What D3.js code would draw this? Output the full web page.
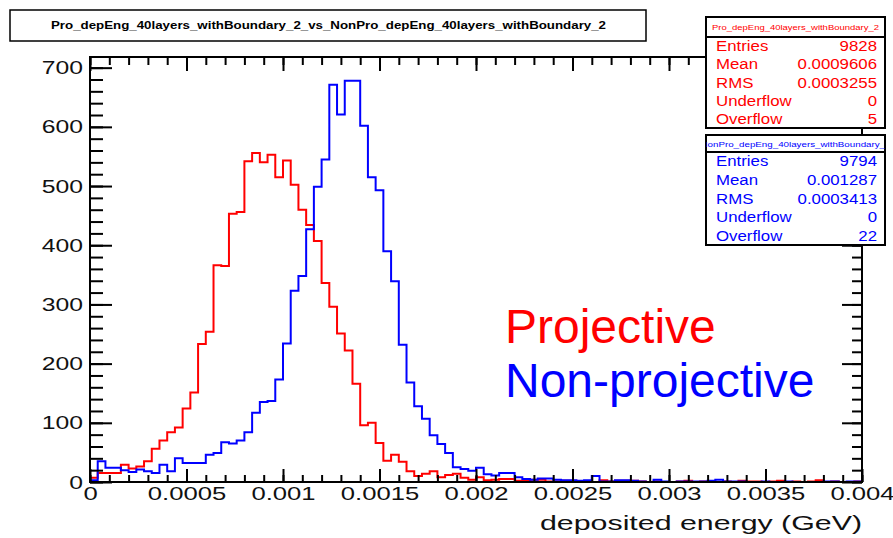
<!DOCTYPE html>
<html>
<head>
<meta charset="utf-8">
<script src="https://cdn.jsdelivr.net/npm/d3@7"></script>
<style>
  body { margin: 0; background: #fff; }
  text { font-family: "Liberation Sans", Arial, sans-serif; }
</style>
</head>
<body>
<script>
// 100 bins from 0 to 0.004 GeV
var binLow = 0, binHigh = 0.004, nBins = 100;

var projCounts = [
  7, 15, 15, 15, 29, 23, 26, 35, 56, 70,
  84, 92, 124, 151, 233, 254, 366, 365, 453, 456,
  542, 556, 540, 553, 515, 543, 502, 460, 434, 407,
  336, 296, 251, 222, 166, 96, 100, 66, 36, 46,
  34, 18, 10, 14, 18, 8, 12, 14, 7, 4,
  8, 3, 4, 5, 5, 2, 2, 4, 4, 1,
  1, 2, 2, 1, 1, 0, 3, 1, 2, 2,
  2, 1, 0, 1, 0, 0, 1, 2, 0, 1,
  1, 0, 1, 0, 2, 1, 1, 0, 1, 2,
  0, 1, 0, 1, 3, 0, 1, 0, 0, 1
];

var nonProjCounts = [
  3, 35, 24, 24, 20, 17, 21, 18, 15, 29,
  18, 40, 32, 32, 32, 46, 49, 67, 65, 70,
  84, 117, 135, 137, 173, 234, 323, 348, 427, 499,
  545, 671, 621, 678, 678, 602, 515, 493, 390, 339,
  232, 168, 128, 107, 79, 64, 49, 25, 22, 19,
  24, 13, 11, 15, 15, 8, 5, 4, 6, 6,
  4, 3, 3, 2, 3, 10, 1, 1, 3, 3,
  2, 1, 0, 4, 1, 0, 1, 1, 1, 1,
  2, 4, 1, 1, 1, 0, 0, 1, 0, 0,
  1, 0, 0, 0, 0, 1, 1, 0, 1, 1
];

var yMajorTicks = [0, 100, 200, 300, 400, 500, 600, 700];
var xMajorTicks = [0, 0.0005, 0.001, 0.0015, 0.002, 0.0025, 0.003, 0.0035, 0.004];
var xTickLabels = ['0', '0.0005', '0.001', '0.0015', '0.002', '0.0025', '0.003', '0.0035', '0.004'];

var titleText = 'Pro_depEng_40layers_withBoundary_2_vs_NonPro_depEng_40layers_withBoundary_2';
var statNames = ['Entries', 'Mean', 'RMS', 'Underflow', 'Overflow'];
var projStats = ['9828', '0.0009606', '0.0003255', '0', '5'];
var nonProjStats = ['9794', '0.001287', '0.0003413', '0', '22'];

var W = 893, H = 538;
var frameL = 90, frameR = 862, frameT = 57, frameB = 482;

var svg = d3.select('body').append('svg')
                .attr('width', W)
                .attr('height', H);

var x = d3.scaleLinear().domain([binLow, binHigh]).range([frameL, frameR]);
var y = d3.scaleLinear().domain([0, 718]).range([frameB, frameT]);

// stretch ROOT text horizontally, the original canvas was widened
function stretch(sel, k) {
  sel.each(function() {
    var w = this.getComputedTextLength();
    d3.select(this).attr('textLength', w * k).attr('lengthAdjust', 'spacingAndGlyphs');
  });
}

var binW = (binHigh - binLow) / nBins;
function histPath(counts) {
  var p = d3.path();
  p.moveTo(x(binLow), y(0));
  counts.forEach(function(c, i) {
    p.lineTo(x(binLow + i * binW), y(c));
    p.lineTo(x(binLow + (i + 1) * binW), y(c));
  });
  p.lineTo(x(binHigh), y(0));
  return p.toString();
}

svg.append('path')
    .attr('d', histPath(projCounts))
    .attr('fill', 'none')
    .attr('stroke', '#ff0000')
    .attr('stroke-width', 2);

svg.append('path')
    .attr('d', histPath(nonProjCounts))
    .attr('fill', 'none')
    .attr('stroke', '#0000ff')
    .attr('stroke-width', 2);

// axes: ticks on all four sides, pointing inwards
var yMinor = d3.range(0, 720, 20);
var xMinor = d3.range(0, 41).map(function(i) { return +(i * 0.0001).toFixed(4); });

function noDomain(g) { g.select('.domain').remove(); g.selectAll('line').attr('stroke', '#000').attr('stroke-width', 2); }

svg.append('g').attr('transform', 'translate(' + frameL + ',0)')
    .call(d3.axisLeft(y).tickValues(yMinor).tickSize(-13).tickFormat(''))
    .call(noDomain);
var yAx = svg.append('g').attr('transform', 'translate(' + frameL + ',0)')
    .call(d3.axisLeft(y).tickValues(yMajorTicks).tickSize(-22).tickPadding(7))
    .call(noDomain);
svg.append('g').attr('transform', 'translate(' + frameR + ',0)')
    .call(d3.axisRight(y).tickValues(yMinor).tickSize(-10).tickFormat(''))
    .call(noDomain);
svg.append('g').attr('transform', 'translate(' + frameR + ',0)')
    .call(d3.axisRight(y).tickValues(yMajorTicks).tickSize(-20).tickFormat(''))
    .call(noDomain);

svg.append('g').attr('transform', 'translate(0,' + frameB + ')')
    .call(d3.axisBottom(x).tickValues(xMinor).tickSize(-7).tickFormat(''))
    .call(noDomain);
var xAx = svg.append('g').attr('transform', 'translate(0,' + frameB + ')')
    .call(d3.axisBottom(x).tickValues(xMajorTicks).tickSize(-13).tickPadding(5)
      .tickFormat(function(d, i) { return xTickLabels[i]; }))
    .call(noDomain);
svg.append('g').attr('transform', 'translate(0,' + frameT + ')')
    .call(d3.axisTop(x).tickValues(xMinor).tickSize(-8).tickFormat(''))
    .call(noDomain);
svg.append('g').attr('transform', 'translate(0,' + frameT + ')')
    .call(d3.axisTop(x).tickValues(xMajorTicks).tickSize(-14).tickFormat(''))
    .call(noDomain);

yAx.selectAll('text')
    .attr('font-family', '"Liberation Sans", Arial, sans-serif')
    .attr('font-size', 19).attr('fill', '#111')
    .call(stretch, 1.3);
xAx.selectAll('text')
    .attr('font-family', '"Liberation Sans", Arial, sans-serif')
    .attr('font-size', 19).attr('fill', '#111')
    .call(stretch, 1.35);

svg.append('rect')
    .attr('x', frameL).attr('y', frameT)
    .attr('width', frameR - frameL).attr('height', frameB - frameT)
    .attr('fill', 'none').attr('stroke', '#000').attr('stroke-width', 2);

svg.append('text')
    .attr('x', 540).attr('y', 530)
    .attr('font-size', 21).attr('fill', '#111')
    .attr('textLength', 322).attr('lengthAdjust', 'spacingAndGlyphs')
    .text('deposited energy (GeV)');

// title box
svg.append('rect')
    .attr('x', 10).attr('y', 10).attr('width', 636).attr('height', 31)
    .attr('fill', '#fff').attr('stroke', '#000').attr('stroke-width', 1.5);
svg.append('text')
    .attr('x', 51).attr('y', 29)
    .attr('font-size', 11).attr('font-weight', 'bold')
    .attr('textLength', 555).attr('lengthAdjust', 'spacingAndGlyphs')
    .text(titleText);

// stats boxes
function statBox(bx, by, bh, hh, name, values, color) {
  var g = svg.append('g');
  var bw = 179;
  var clipId = 'clip' + by;
  svg.append('clipPath').attr('id', clipId)
      .append('rect').attr('x', bx).attr('y', by).attr('width', bw).attr('height', hh);
  g.append('rect')
      .attr('x', bx).attr('y', by).attr('width', bw).attr('height', bh)
      .attr('fill', '#fff').attr('stroke', '#000').attr('stroke-width', 2);
  g.append('line')
      .attr('x1', bx).attr('x2', bx + bw).attr('y1', by + hh).attr('y2', by + hh)
      .attr('stroke', '#000').attr('stroke-width', 2);
  g.append('text')
      .attr('clip-path', 'url(#' + clipId + ')')
      .attr('x', bx + bw / 2).attr('y', by + hh / 2 + 3)
      .attr('text-anchor', 'middle')
      .attr('font-size', 7).attr('fill', color)
      .attr('textLength', name.length > 34 ? 190 : 167).attr('lengthAdjust', 'spacingAndGlyphs')
      .text(name);
  var rowH = (bh - hh) / statNames.length;
  statNames.forEach(function(s, i) {
    var ty = by + hh + rowH * (i + 0.5) + 5;
    g.append('text')
        .attr('x', bx + 10).attr('y', ty)
        .attr('font-size', 14).attr('fill', color)
        .text(s).call(stretch, 1.2);
    g.append('text')
        .attr('x', bx + bw - 8).attr('y', ty)
        .attr('text-anchor', 'end')
        .attr('font-size', 14).attr('fill', color)
        .text(values[i]).call(stretch, 1.2);
  });
}

statBox(706, 17, 111, 20, 'Pro_depEng_40layers_withBoundary_2', projStats, '#ff0000');
statBox(706, 135, 110, 17, 'NonPro_depEng_40layers_withBoundary_2', nonProjStats, '#0000ff');

// legend words
svg.append('text')
    .attr('x', 505).attr('y', 343)
    .attr('font-size', 48).attr('fill', '#ff0000')
    .text('Projective');
svg.append('text')
    .attr('x', 505).attr('y', 397)
    .attr('font-size', 48).attr('fill', '#0000ff')
    .text('Non-projective');
</script>
</body>
</html>
